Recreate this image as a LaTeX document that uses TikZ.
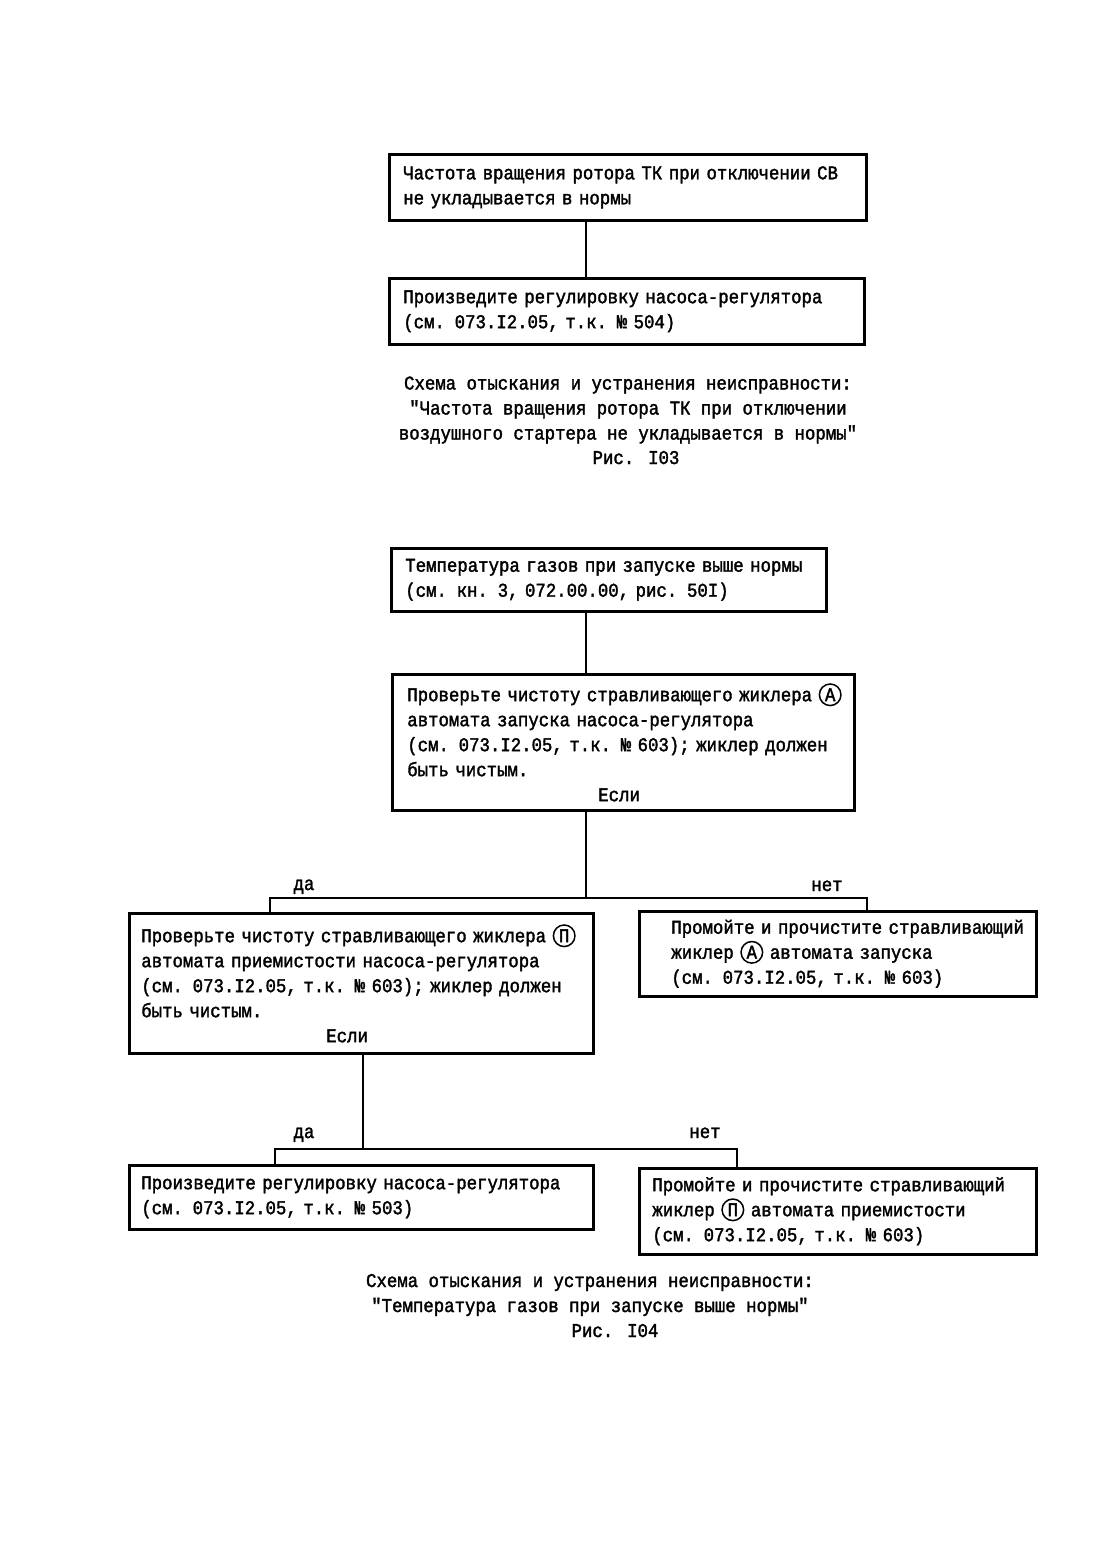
\documentclass[tikz,border=0pt]{standalone}
\usepackage{fontspec}
\newfontfamily\mashinka{Liberation Mono}[FakeStretch=0.89,FakeBold=1.8]
\newcommand\krug[1]{\tikz[baseline=(kr.base)]\node[krugl] (kr) {#1};}

\begin{document}
\begin{tikzpicture}[x=1pt,y=-1pt, every node/.style={font=\mashinka\fontsize{19.5}{25}\selectfont}]
    \tikzstyle{ramka}=[draw,line width=2.6pt,anchor=north west,align=left,inner ysep=0pt]
    \tikzstyle{krugl}=[draw,circle,line width=1.5pt,inner sep=1.8pt,text width=,minimum width=0pt,minimum height=0pt,anchor=center]
    \tikzstyle{svyaz}=[line width=2.4pt]
    \tikzstyle{metka}=[anchor=base,inner sep=0pt]

    \fill[white] (0,0) rectangle (1110,1558);
    \useasboundingbox (0,0) rectangle (1110,1558);

    % Рис. 103
    \node[ramka,minimum width=477pt,minimum height=66pt,inner xsep=14pt,text width=449pt] (chast) at (388,153)
        {Частота вращения ротора ТК при отключении СВ\\не укладывается в нормы};
    \node[ramka,minimum width=475pt,minimum height=66pt,inner xsep=14pt,text width=447pt] (proizv1) at (388,277)
        {Произведите регулировку насоса-регулятора\\(см. 073.I2.05, т.к. № 504)};
    \coordinate (uzel0) at (586,0);
    \draw[svyaz] (chast.south -| uzel0) -- (proizv1.north -| uzel0);

    \node[align=center,inner sep=0pt] (podpis1) at (628,410)
        {Схема отыскания и устранения неисправности:\\"Частота вращения ротора ТК при отключении\\воздушного стартера не укладывается в нормы"};
    \node[metka] (ris1) at (636,464) {Рис. I03};

    % Рис. 104
    \node[ramka,minimum width=435pt,minimum height=63pt,inner xsep=14pt,text width=407pt] (temp) at (390,547)
        {\mbox{Температура газов при запуске выше нормы}\\(см. кн. 3, 072.00.00, рис. 50I)};
    \node[ramka,minimum width=462pt,minimum height=136pt,inner xsep=15pt,text width=432pt] (prov1) at (391,673)
        {\mbox{Проверьте чистоту стравливающего жиклера \krug{A}}\\автомата запуска насоса-регулятора\\
         (см. 073.I2.05, т.к. № 603); жиклер должен\\быть чистым.\\\hspace*{191pt}Если};
    \node[ramka,minimum width=464pt,minimum height=140pt,inner xsep=12pt,text width=440pt] (prov2) at (128,912)
        {\mbox{Проверьте чистоту стравливающего жиклера \krug{П}}\\автомата приемистости насоса-регулятора\\
         (см. 073.I2.05, т.к. № 603); жиклер должен\\быть чистым.\\\hspace*{185pt}Если};
    \node[ramka,minimum width=397pt,minimum height=85pt,inner xsep=32pt,text width=333pt] (prom1) at (638,910)
        {\mbox{Промойте и прочистите стравливающий}\\жиклер \krug{A} автомата запуска\\(см. 073.I2.05, т.к. № 603)};
    \node[ramka,minimum width=464pt,minimum height=64pt,inner xsep=12pt,text width=440pt] (proizv2) at (128,1164)
        {Произведите регулировку насоса-регулятора\\(см. 073.I2.05, т.к. № 503)};
    \node[ramka,minimum width=397pt,minimum height=86pt,inner xsep=13pt,text width=371pt] (prom2) at (638,1167)
        {Промойте и прочистите стравливающий\\жиклер \krug{П} автомата приемистости\\(см. 073.I2.05, т.к. № 603)};

    \coordinate (uzel1) at (586,898);
    \coordinate (da1) at (270,898);
    \coordinate (net1) at (867,898);
    \draw[svyaz] (temp.south -| uzel1) -- (prov1.north -| uzel1);
    \draw[svyaz] (prov1.south -| uzel1) -- (uzel1);
    \draw[svyaz] (prov2.north -| da1) -- (da1) -- (net1) -- (prom1.north -| net1);
    \node[metka] (metka-da1) at (304,890) {да};
    \node[metka] (metka-net1) at (827,891) {нет};

    \coordinate (uzel2) at (363,1149);
    \coordinate (da2) at (275,1149);
    \coordinate (net2) at (737,1149);
    \draw[svyaz] (prov2.south -| uzel2) -- (uzel2);
    \draw[svyaz] (proizv2.north -| da2) -- (da2) -- (net2) -- (prom2.north -| net2);
    \node[metka] (metka-da2) at (304,1138) {да};
    \node[metka] (metka-net2) at (705,1138) {нет};

    \node[align=center,inner sep=0pt] (podpis2) at (590,1295)
        {Схема отыскания и устранения неисправности:\\"Температура газов при запуске выше нормы"};
    \node[metka] (ris2) at (615,1337) {Рис. I04};

\end{tikzpicture}
\end{document}
